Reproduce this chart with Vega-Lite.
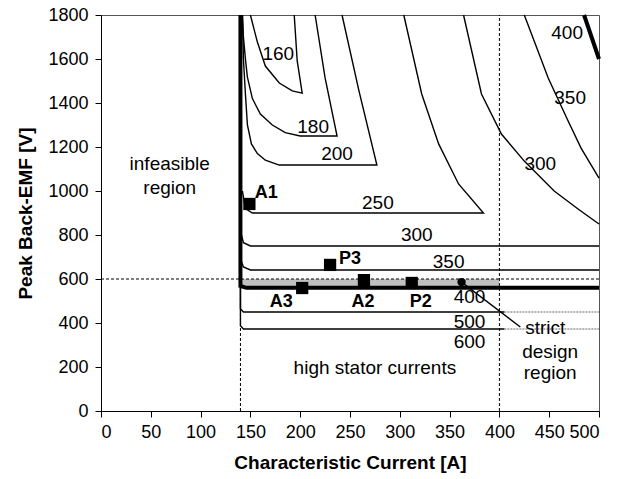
{
  "$schema": "https://vega.github.io/schema/vega-lite/v6.json",
  "autosize": "none",
  "width": 498,
  "height": 396,
  "padding": {"left": 101, "top": 15, "right": 27, "bottom": 68},
  "background": "white",
  "config": {
    "font": "Liberation Sans",
    "view": {"stroke": "#555555", "strokeWidth": 1},
    "axis": {
      "domainColor": "black",
      "tickColor": "black",
      "labelColor": "black",
      "titleColor": "black",
      "labelFont": "Liberation Sans",
      "titleFont": "Liberation Sans",
      "labelFontSize": 18,
      "titleFontSize": 19,
      "titleFontWeight": "bold",
      "grid": false,
      "tickSize": 6
    }
  },
  "datasets": {
    "band": [{"x": 140, "x2": 400, "y": 560, "y2": 600}],
    "thin": [
      {"id": "160", "o": 1, "x": 150, "y": 1800},
      {"id": "160", "o": 2, "x": 157, "y": 1677},
      {"id": "160", "o": 3, "x": 165, "y": 1568},
      {"id": "160", "o": 4, "x": 179, "y": 1491},
      {"id": "160", "o": 5, "x": 192, "y": 1455},
      {"id": "160", "o": 6, "x": 202, "y": 1445},
      {"id": "160", "o": 7, "x": 197, "y": 1591},
      {"id": "160", "o": 8, "x": 194, "y": 1800},
      {"id": "180", "o": 1, "x": 142, "y": 1800},
      {"id": "180", "o": 2, "x": 143, "y": 1700},
      {"id": "180", "o": 3, "x": 145, "y": 1600},
      {"id": "180", "o": 4, "x": 147, "y": 1518},
      {"id": "180", "o": 5, "x": 152, "y": 1420},
      {"id": "180", "o": 6, "x": 160, "y": 1350},
      {"id": "180", "o": 7, "x": 172, "y": 1300},
      {"id": "180", "o": 8, "x": 185, "y": 1265},
      {"id": "180", "o": 9, "x": 200, "y": 1250},
      {"id": "180", "o": 10, "x": 237, "y": 1250},
      {"id": "180", "o": 11, "x": 225, "y": 1514},
      {"id": "180", "o": 12, "x": 215, "y": 1800},
      {"id": "200", "o": 1, "x": 142, "y": 1800},
      {"id": "200", "o": 2, "x": 143, "y": 1600},
      {"id": "200", "o": 3, "x": 145, "y": 1441},
      {"id": "200", "o": 4, "x": 147, "y": 1300},
      {"id": "200", "o": 5, "x": 151, "y": 1214},
      {"id": "200", "o": 6, "x": 157, "y": 1170},
      {"id": "200", "o": 7, "x": 165, "y": 1140},
      {"id": "200", "o": 8, "x": 179, "y": 1118},
      {"id": "200", "o": 9, "x": 277, "y": 1118},
      {"id": "200", "o": 10, "x": 259, "y": 1455},
      {"id": "200", "o": 11, "x": 242, "y": 1800},
      {"id": "250", "o": 1, "x": 142, "y": 1000},
      {"id": "250", "o": 2, "x": 145, "y": 920},
      {"id": "250", "o": 3, "x": 152, "y": 900},
      {"id": "250", "o": 4, "x": 384, "y": 900},
      {"id": "250", "o": 5, "x": 359, "y": 1032},
      {"id": "250", "o": 6, "x": 339, "y": 1214},
      {"id": "250", "o": 7, "x": 322, "y": 1441},
      {"id": "250", "o": 8, "x": 304, "y": 1800},
      {"id": "300a", "o": 1, "x": 141, "y": 800},
      {"id": "300a", "o": 2, "x": 143, "y": 765},
      {"id": "300a", "o": 3, "x": 150, "y": 750},
      {"id": "300a", "o": 4, "x": 500, "y": 750},
      {"id": "300b", "o": 1, "x": 364, "y": 1800},
      {"id": "300b", "o": 2, "x": 382, "y": 1441},
      {"id": "300b", "o": 3, "x": 402, "y": 1259},
      {"id": "300b", "o": 4, "x": 425, "y": 1136},
      {"id": "300b", "o": 5, "x": 455, "y": 1000},
      {"id": "300b", "o": 6, "x": 480, "y": 915},
      {"id": "300b", "o": 7, "x": 500, "y": 850},
      {"id": "350a", "o": 1, "x": 141, "y": 680},
      {"id": "350a", "o": 2, "x": 143, "y": 655},
      {"id": "350a", "o": 3, "x": 150, "y": 641},
      {"id": "350a", "o": 4, "x": 500, "y": 641},
      {"id": "350b", "o": 1, "x": 425, "y": 1800},
      {"id": "350b", "o": 2, "x": 449, "y": 1514},
      {"id": "350b", "o": 3, "x": 469, "y": 1318},
      {"id": "350b", "o": 4, "x": 482, "y": 1195},
      {"id": "350b", "o": 5, "x": 500, "y": 1059},
      {"id": "500", "o": 1, "x": 140, "y": 560},
      {"id": "500", "o": 2, "x": 140, "y": 465},
      {"id": "500", "o": 3, "x": 143, "y": 450},
      {"id": "500", "o": 4, "x": 405, "y": 450},
      {"id": "600", "o": 1, "x": 140, "y": 560},
      {"id": "600", "o": 2, "x": 140, "y": 388},
      {"id": "600", "o": 3, "x": 143, "y": 373},
      {"id": "600", "o": 4, "x": 405, "y": 373},
      {"id": "lead", "o": 1, "x": 362, "y": 586},
      {"id": "lead", "o": 2, "x": 421, "y": 382}
    ],
    "dot": [
      {"id": "500", "o": 1, "x": 405, "y": 450},
      {"id": "500", "o": 2, "x": 500, "y": 450},
      {"id": "600", "o": 1, "x": 405, "y": 373},
      {"id": "600", "o": 2, "x": 500, "y": 373}
    ],
    "thick": [
      {"id": "400a", "o": 1, "x": 140, "y": 1800},
      {"id": "400a", "o": 2, "x": 140, "y": 568},
      {"id": "400a", "o": 3, "x": 146, "y": 560},
      {"id": "400a", "o": 4, "x": 500, "y": 560},
      {"id": "400b", "o": 1, "x": 485, "y": 1800},
      {"id": "400b", "o": 2, "x": 500, "y": 1600}
    ],
    "dash": [
      {"id": "v140", "o": 1, "x": 140, "y": 0},
      {"id": "v140", "o": 2, "x": 140, "y": 1800},
      {"id": "v400", "o": 1, "x": 400, "y": 0},
      {"id": "v400", "o": 2, "x": 400, "y": 1800},
      {"id": "h600", "o": 1, "x": 0, "y": 600},
      {"id": "h600", "o": 2, "x": 500, "y": 600}
    ],
    "pts": [
      {"name": "A1", "x": 149, "y": 941},
      {"name": "P3", "x": 230, "y": 664},
      {"name": "A2", "x": 264, "y": 595},
      {"name": "A3", "x": 202, "y": 559},
      {"name": "P2", "x": 312, "y": 582}
    ],
    "circ": [{"x": 362, "y": 586}],
    "labels": [
      {"t": "160", "x": 178, "y": 1623},
      {"t": "180", "x": 213, "y": 1291},
      {"t": "200", "x": 237, "y": 1168},
      {"t": "250", "x": 278, "y": 945},
      {"t": "300", "x": 317, "y": 800},
      {"t": "350", "x": 349, "y": 677},
      {"t": "400", "x": 370, "y": 518},
      {"t": "500", "x": 370, "y": 405},
      {"t": "600", "x": 370, "y": 314},
      {"t": "300", "x": 441, "y": 1123},
      {"t": "350", "x": 471, "y": 1423},
      {"t": "400", "x": 468, "y": 1718},
      {"t": "infeasible", "x": 69, "y": 1122},
      {"t": "region", "x": 69, "y": 1013},
      {"t": "high stator currents", "x": 275, "y": 195},
      {"t": "strict", "x": 446, "y": 377},
      {"t": "design", "x": 451, "y": 268},
      {"t": "region", "x": 451, "y": 173}
    ],
    "bold": [
      {"t": "A1", "x": 166, "y": 991},
      {"t": "P3", "x": 250, "y": 691},
      {"t": "A2", "x": 263, "y": 495},
      {"t": "A3", "x": 181, "y": 495},
      {"t": "P2", "x": 321, "y": 495}
    ]
  },
  "layer": [
    {
      "data": {"name": "band"},
      "mark": {"type": "rect", "color": "#c0c0c0"},
      "encoding": {
        "x": {"field": "x", "type": "quantitative", "scale": {"domain": [0, 500], "nice": false}, "axis": {"values": [0, 50, 100, 150, 200, 250, 300, 350, 400, 450, 500], "title": "Characteristic Current [A]", "labelPadding": 6, "titlePadding": 12}},
        "x2": {"field": "x2"},
        "y": {"field": "y", "type": "quantitative", "scale": {"domain": [0, 1800], "nice": false}, "axis": {"values": [0, 200, 400, 600, 800, 1000, 1200, 1400, 1600, 1800], "format": "d", "title": "Peak Back-EMF [V]", "labelPadding": 7, "titlePadding": 12}},
        "y2": {"field": "y2"}
      }
    },
    {
      "data": {"name": "dash"},
      "mark": {"type": "line", "color": "black", "strokeWidth": 1, "strokeDash": [3, 2]},
      "encoding": {
        "x": {"field": "x", "type": "quantitative"},
        "y": {"field": "y", "type": "quantitative"},
        "detail": {"field": "id"},
        "order": {"field": "o"}
      }
    },
    {
      "data": {"name": "dot"},
      "mark": {"type": "line", "color": "#999999", "strokeWidth": 1.5, "strokeDash": [2, 1]},
      "encoding": {
        "x": {"field": "x", "type": "quantitative"},
        "y": {"field": "y", "type": "quantitative"},
        "detail": {"field": "id"},
        "order": {"field": "o"}
      }
    },
    {
      "data": {"name": "thin"},
      "mark": {"type": "line", "color": "black", "strokeWidth": 1.4},
      "encoding": {
        "x": {"field": "x", "type": "quantitative"},
        "y": {"field": "y", "type": "quantitative"},
        "detail": {"field": "id"},
        "order": {"field": "o"}
      }
    },
    {
      "data": {"name": "thick"},
      "mark": {"type": "line", "color": "black", "strokeWidth": 4},
      "encoding": {
        "x": {"field": "x", "type": "quantitative"},
        "y": {"field": "y", "type": "quantitative"},
        "detail": {"field": "id"},
        "order": {"field": "o"}
      }
    },
    {
      "data": {"name": "pts"},
      "mark": {"type": "square", "color": "black", "filled": true, "opacity": 1, "size": 150},
      "encoding": {
        "x": {"field": "x", "type": "quantitative"},
        "y": {"field": "y", "type": "quantitative"}
      }
    },
    {
      "data": {"name": "circ"},
      "mark": {"type": "circle", "color": "black", "opacity": 1, "size": 70},
      "encoding": {
        "x": {"field": "x", "type": "quantitative"},
        "y": {"field": "y", "type": "quantitative"}
      }
    },
    {
      "data": {"name": "labels"},
      "mark": {"type": "text", "font": "Liberation Sans", "fontSize": 19, "color": "black", "align": "center", "baseline": "middle"},
      "encoding": {
        "x": {"field": "x", "type": "quantitative"},
        "y": {"field": "y", "type": "quantitative"},
        "text": {"field": "t"}
      }
    },
    {
      "data": {"name": "bold"},
      "mark": {"type": "text", "font": "Liberation Sans", "fontSize": 18, "fontWeight": "bold", "color": "black", "align": "center", "baseline": "middle"},
      "encoding": {
        "x": {"field": "x", "type": "quantitative"},
        "y": {"field": "y", "type": "quantitative"},
        "text": {"field": "t"}
      }
    }
  ]
}
